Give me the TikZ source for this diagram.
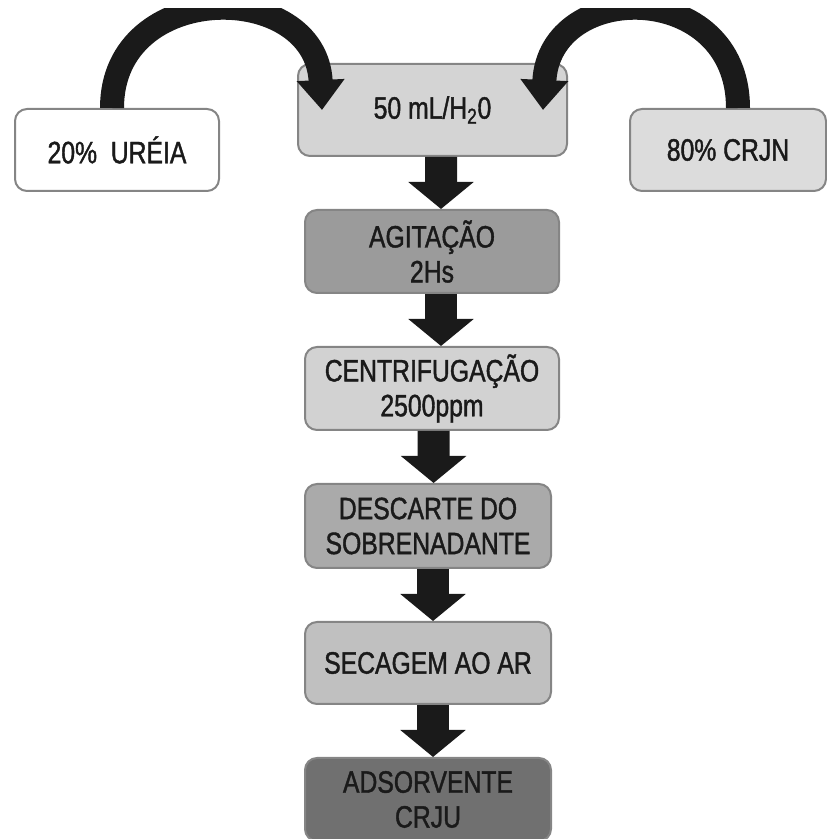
\documentclass[tikz,border=0pt]{standalone}
\usepackage{fontspec}
\setmainfont{Liberation Sans}[FakeStretch=0.8, FakeBold=1.3]
\usepackage{xcolor}
\usetikzlibrary{arrows.meta}
\definecolor{inkgray}{HTML}{1A1A1A}
\definecolor{edgegray}{HTML}{858585}
\definecolor{waterfill}{HTML}{D4D4D4}
\definecolor{crjnfill}{HTML}{DCDCDC}
\definecolor{agitfill}{HTML}{9B9B9B}
\definecolor{centrfill}{HTML}{D2D2D2}
\definecolor{descfill}{HTML}{AAAAAA}
\definecolor{secfill}{HTML}{C0C0C0}
\definecolor{adsfill}{HTML}{707070}
\tikzset{
  stagebox/.style={draw=edgegray, line width=0.5mm, rounded corners=0.3cm, align=center,
    text=inkgray, font=\fontsize{22}{24.8}\selectfont, inner sep=0pt},
  flowarrow/.style={inkgray, line width=0.8cm, -{Triangle[width=1.6cm, length=0.675cm]}},
  feedarrow/.style={inkgray, line width=0.6cm, -{Triangle[width=1.15cm, length=0.75cm]}}
}
\begin{document}
\begin{tikzpicture}
\useasboundingbox (0,0) rectangle (20.675,20.975);
\node[stagebox, fill=white, minimum width=5.1cm, minimum height=2.05cm] (ureia) at (2.925,17.225) {20\%\ \ URÉIA};
\node[stagebox, fill=waterfill, minimum width=6.725cm, minimum height=2.3cm] (water) at (10.8125,18.225) {50 mL/H\textsubscript{2}0};
\node[stagebox, fill=crjnfill, minimum width=4.9cm, minimum height=2.05cm] (crjn) at (18.2,17.225) {80\% CRJN};
\node[stagebox, fill=agitfill, minimum width=6.35cm, minimum height=2.075cm] (agit) at (10.8,14.6875) {AGITAÇÃO\\2Hs};
\node[stagebox, fill=centrfill, minimum width=6.35cm, minimum height=2.075cm] (centr) at (10.8,11.2625) {CENTRIFUGAÇÃO\\2500ppm};
\node[stagebox, fill=descfill, minimum width=6.15cm, minimum height=2.1cm] (desc) at (10.7,7.825) {DESCARTE DO\\SOBRENADANTE};
\node[stagebox, fill=secfill, minimum width=6.15cm, minimum height=2.05cm] (sec) at (10.7,4.4) {SECAGEM AO AR};
\node[stagebox, fill=adsfill, minimum width=6.15cm, minimum height=2.075cm] (ads) at (10.7,0.9875) {ADSORVENTE\\CRJU};
\draw[flowarrow] ([xshift=0.2125cm]water.south) -- ([xshift=0.225cm]agit.north);
\draw[flowarrow] ([xshift=0.225cm]agit.south) -- ([xshift=0.225cm]centr.north);
\draw[flowarrow] ([xshift=0.04cm]centr.south) -- ([xshift=0.14cm]desc.north);
\draw[flowarrow] ([xshift=0.125cm]desc.south) -- ([xshift=0.125cm]sec.north);
\draw[flowarrow] ([xshift=0.125cm]sec.south) -- ([xshift=0.125cm]ads.north);
\coordinate (wL) at ([xshift=0.625cm]water.west);
\coordinate (wR) at ([xshift=-0.625cm]water.east);
\begin{scope}
\clip (0,0) rectangle (20.675,20.75);
\draw[feedarrow] ([xshift=-0.125cm]ureia.north) .. controls (2.8,21.5) and (7.9,21.5) .. (wL);
\draw[feedarrow] ([xshift=0.25cm]crjn.north) .. controls (18.45,21.5) and (13.725,21.5) .. (wR);
\end{scope}
\end{tikzpicture}
\end{document}
